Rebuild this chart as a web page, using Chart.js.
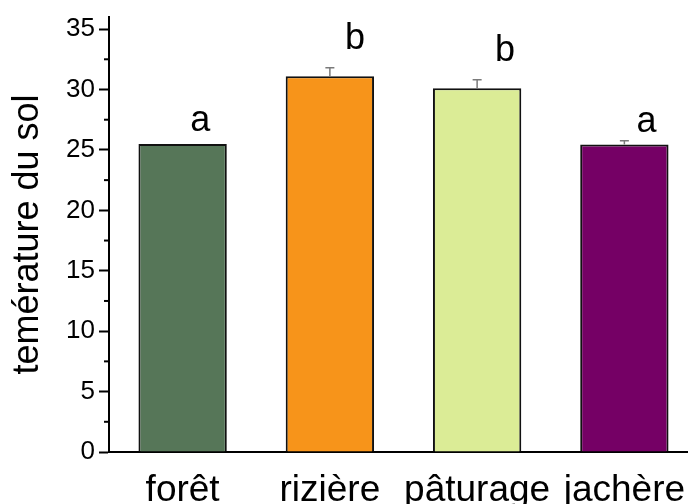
<!DOCTYPE html>
<html>
<head>
<meta charset="utf-8">
<script src="https://cdn.jsdelivr.net/npm/chart.js@4/dist/chart.umd.min.js"></script>
<style>
  html, body { margin: 0; padding: 0; background: #fff; overflow: hidden; }
  #wrap { width: 700px; height: 504px; }
</style>
</head>
<body>
<div id="wrap"><canvas id="soilChart"></canvas></div>
<script>
// Chart data
const categories = ['forêt', 'rizière', 'pâturage', 'jachère'];
const temperatures = [25.5, 31.1, 30.1, 25.45];
const errors = [0, 0.7, 0.7, 0.3];
const groupLetters = ['a', 'b', 'b', 'a'];
const letterHeights = [26.6, 33.35, 32.4, 26.5];
const letterShift = [0.12, 0.17, 0.19, 0.15];
const barColors = ['#567658', '#f7941a', '#dbec96', '#750065'];
const yTicks = [0, 5, 10, 15, 20, 25, 30, 35];
const yMinorTicks = [2.5, 7.5, 12.5, 17.5, 22.5, 27.5, 32.5];

const FONT = "'Liberation Sans', Arial, sans-serif";

// Error bars, group letters and minor ticks
const annotations = {
    id: 'annotations',
    afterDatasetsDraw(chart) {
        const ctx = chart.ctx;
        const x = chart.scales.x;
        const y = chart.scales.y;

        ctx.save();
        ctx.strokeStyle = '#7a7a7a';
        ctx.lineWidth = 1.5;
        temperatures.forEach((v, i) => {
            if (!errors[i]) return;
            const px = x.getPixelForValue(i);
            const top = y.getPixelForValue(v + errors[i]);
            const base = y.getPixelForValue(v);
            ctx.beginPath();
            ctx.moveTo(px, base);
            ctx.lineTo(px, top);
            ctx.moveTo(px - 4.5, top);
            ctx.lineTo(px + 4.5, top);
            ctx.stroke();
        });

        ctx.fillStyle = '#000';
        ctx.font = '36px ' + FONT;
        ctx.textAlign = 'center';
        ctx.textBaseline = 'alphabetic';
        groupLetters.forEach((t, i) => {
            ctx.fillText(t, x.getPixelForValue(i + letterShift[i]), y.getPixelForValue(letterHeights[i]));
        });

        ctx.strokeStyle = '#000';
        ctx.lineWidth = 2;
        yMinorTicks.forEach(v => {
            const py = y.getPixelForValue(v);
            ctx.beginPath();
            ctx.moveTo(y.right - 5, py);
            ctx.lineTo(y.right, py);
            ctx.stroke();
        });
        ctx.restore();
    }
};

new Chart(document.getElementById('soilChart'), {
    type: 'bar',
    data: {
        labels: categories,
        datasets: [{
            data: temperatures,
            backgroundColor: barColors,
            borderColor: '#111',
            borderWidth: 2,
            borderSkipped: 'bottom',
            barPercentage: 0.6,
            categoryPercentage: 1
        }]
    },
    options: {
        responsive: true,
        maintainAspectRatio: false,
        animation: false,
        layout: { padding: { top: 17, right: 2, left: 0, bottom: 0 } },
        plugins: {
            legend: { display: false },
            tooltip: { enabled: false }
        },
        scales: {
            x: {
                grid: { drawOnChartArea: false, drawTicks: false },
                border: { color: '#000', width: 2 },
                ticks: {
                    color: '#000',
                    padding: 17,
                    maxRotation: 0,
                    autoSkip: false,
                    font: { family: FONT, size: 37 }
                },
                afterFit(scale) {
                    scale.height = 52;
                    scale.paddingLeft = 0;
                    scale.paddingRight = 0;
                }
            },
            y: {
                min: 0,
                max: 36,
                grid: {
                    drawOnChartArea: false,
                    drawTicks: true,
                    tickLength: 10,
                    tickColor: '#000',
                    tickWidth: 2
                },
                border: { color: '#000', width: 2 },
                ticks: {
                    color: '#000',
                    padding: 4,
                    font: { family: FONT, size: 26 }
                },
                afterBuildTicks(scale) {
                    scale.ticks = yTicks.map(v => ({ value: v }));
                },
                title: {
                    display: true,
                    text: 'temérature du sol',
                    color: '#000',
                    padding: { top: 6, bottom: 0 },
                    font: { family: FONT, size: 36 }
                },
                afterFit(scale) {
                    scale.width = 109;
                    scale.paddingTop = 0;
                    scale.paddingBottom = 0;
                }
            }
        }
    },
    plugins: [annotations]
});
</script>
</body>
</html>
